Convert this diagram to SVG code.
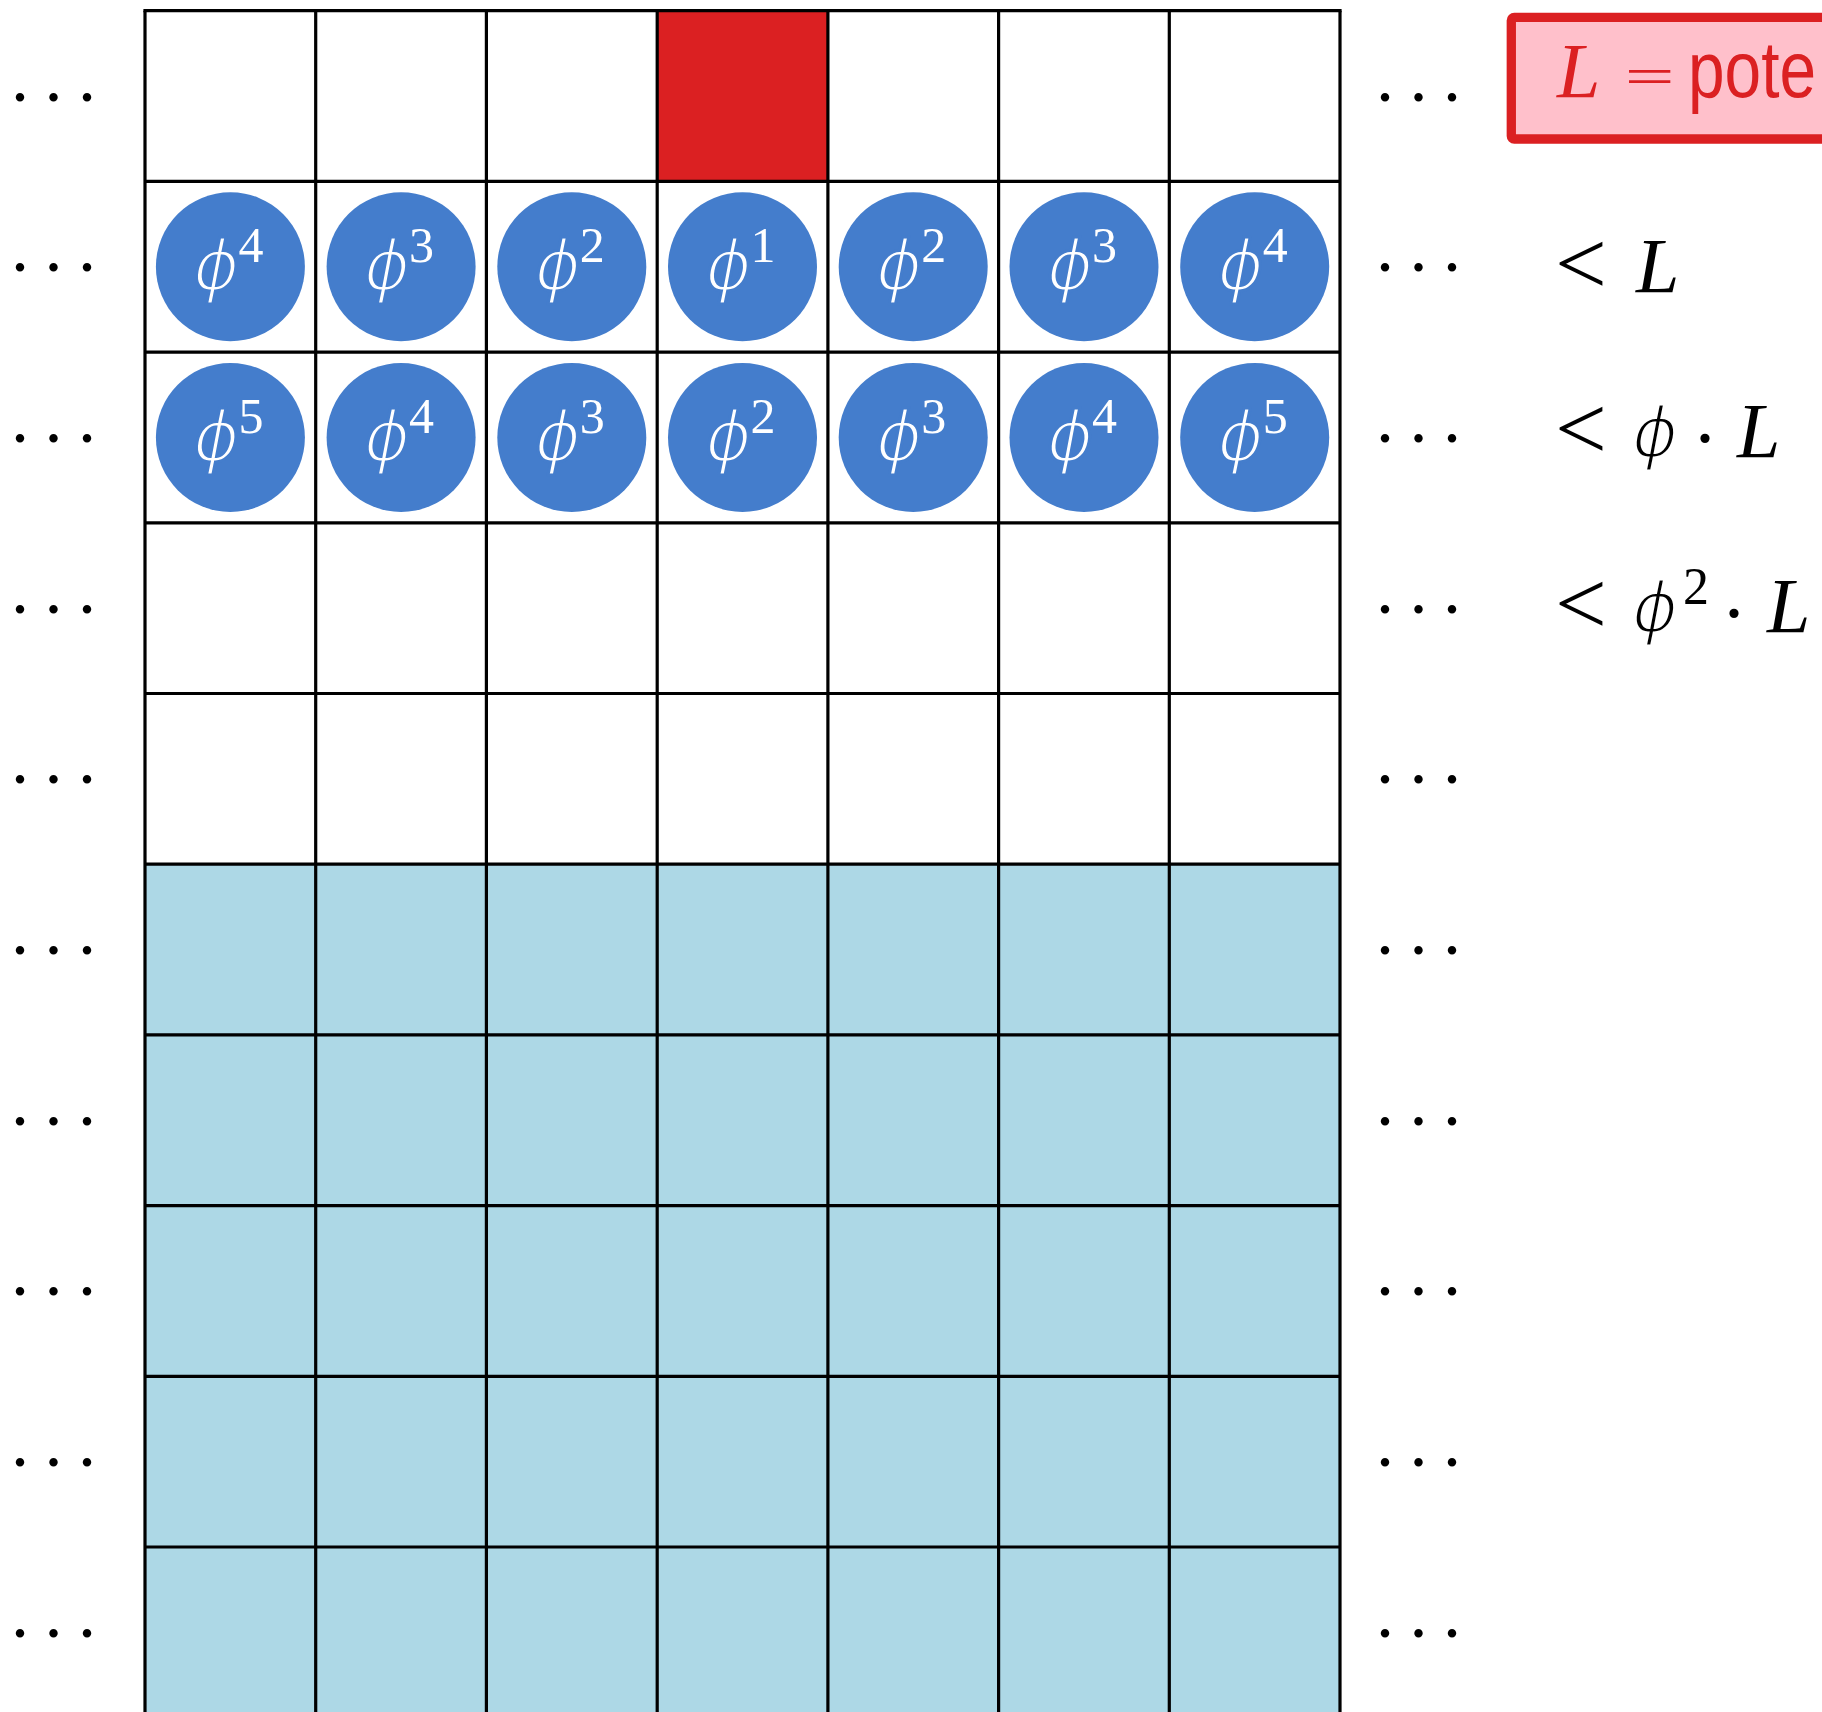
<svg xmlns="http://www.w3.org/2000/svg" width="1822" height="1712" viewBox="0 0 1822 1712">
<style>
.grid line{stroke:#000;stroke-width:3.2;}
.ball{fill:#447DCC;}
.phi{font-family:"DejaVu Sans",sans-serif;font-style:italic;font-size:70px;fill:#fff;stroke:#447DCC;stroke-width:3;text-anchor:middle;}
.sup{font-family:"Liberation Serif",serif;font-size:50px;fill:#fff;}
.dots{font-family:"Liberation Serif",serif;font-size:72px;fill:#000;text-anchor:middle;}
.lt{font-family:"Liberation Serif",serif;font-size:92px;fill:#000;}
.cd{font-family:"Liberation Serif",serif;font-size:78px;fill:#000;text-anchor:middle;}
.mi{font-family:"Liberation Serif",serif;font-style:italic;font-size:78px;fill:#000;}
.mphi{font-family:"DejaVu Sans",sans-serif;font-style:italic;font-size:70px;fill:#000;stroke:#fff;stroke-width:3;}
.msup{font-family:"Liberation Serif",serif;font-size:52px;fill:#000;}
</style>
<rect width="1822" height="1712" fill="#fff"/>
<g id="fills">
<rect x="145" y="864.2" width="1195" height="860" fill="#ADD8E6"/>
<rect id="cell-red" x="657.2" y="10.7" width="170.7" height="170.7" fill="#DB2022"/>
</g>
<g id="grid" class="grid">
<line x1="145" y1="10.7" x2="145" y2="1712"/>
<line x1="315.7" y1="10.7" x2="315.7" y2="1712"/>
<line x1="486.4" y1="10.7" x2="486.4" y2="1712"/>
<line x1="657.2" y1="10.7" x2="657.2" y2="1712"/>
<line x1="827.9" y1="10.7" x2="827.9" y2="1712"/>
<line x1="998.6" y1="10.7" x2="998.6" y2="1712"/>
<line x1="1169.3" y1="10.7" x2="1169.3" y2="1712"/>
<line x1="1340" y1="10.7" x2="1340" y2="1712"/>
<line x1="143.4" y1="10.7" x2="1341.6" y2="10.7"/>
<line x1="145" y1="181.4" x2="1340" y2="181.4"/>
<line x1="145" y1="352.1" x2="1340" y2="352.1"/>
<line x1="145" y1="522.8" x2="1340" y2="522.8"/>
<line x1="145" y1="693.5" x2="1340" y2="693.5"/>
<line x1="145" y1="864.2" x2="1340" y2="864.2"/>
<line x1="145" y1="1034.9" x2="1340" y2="1034.9"/>
<line x1="145" y1="1205.6" x2="1340" y2="1205.6"/>
<line x1="145" y1="1376.3" x2="1340" y2="1376.3"/>
<line x1="145" y1="1547" x2="1340" y2="1547"/>
</g>
<g id="row2">
<g id="b2-1"><circle class="ball" cx="230.4" cy="266.75" r="74.5"/><text class="phi" x="216.4" y="290">ϕ</text><text class="sup" x="238.4" y="262">4</text></g>
<g id="b2-2"><circle class="ball" cx="401.1" cy="266.75" r="74.5"/><text class="phi" x="387.1" y="290">ϕ</text><text class="sup" x="409.1" y="262">3</text></g>
<g id="b2-3"><circle class="ball" cx="571.8" cy="266.75" r="74.5"/><text class="phi" x="557.8" y="290">ϕ</text><text class="sup" x="579.8" y="262">2</text></g>
<g id="b2-4"><circle class="ball" cx="742.5" cy="266.75" r="74.5"/><text class="phi" x="728.5" y="290">ϕ</text><text class="sup" x="750.5" y="262">1</text></g>
<g id="b2-5"><circle class="ball" cx="913.2" cy="266.75" r="74.5"/><text class="phi" x="899.2" y="290">ϕ</text><text class="sup" x="921.2" y="262">2</text></g>
<g id="b2-6"><circle class="ball" cx="1084" cy="266.75" r="74.5"/><text class="phi" x="1070" y="290">ϕ</text><text class="sup" x="1092" y="262">3</text></g>
<g id="b2-7"><circle class="ball" cx="1254.7" cy="266.75" r="74.5"/><text class="phi" x="1240.7" y="290">ϕ</text><text class="sup" x="1262.7" y="262">4</text></g>
</g>
<g id="row3">
<g id="b3-1"><circle class="ball" cx="230.4" cy="437.45" r="74.5"/><text class="phi" x="216.4" y="460.7">ϕ</text><text class="sup" x="238.4" y="432.7">5</text></g>
<g id="b3-2"><circle class="ball" cx="401.1" cy="437.45" r="74.5"/><text class="phi" x="387.1" y="460.7">ϕ</text><text class="sup" x="409.1" y="432.7">4</text></g>
<g id="b3-3"><circle class="ball" cx="571.8" cy="437.45" r="74.5"/><text class="phi" x="557.8" y="460.7">ϕ</text><text class="sup" x="579.8" y="432.7">3</text></g>
<g id="b3-4"><circle class="ball" cx="742.5" cy="437.45" r="74.5"/><text class="phi" x="728.5" y="460.7">ϕ</text><text class="sup" x="750.5" y="432.7">2</text></g>
<g id="b3-5"><circle class="ball" cx="913.2" cy="437.45" r="74.5"/><text class="phi" x="899.2" y="460.7">ϕ</text><text class="sup" x="921.2" y="432.7">3</text></g>
<g id="b3-6"><circle class="ball" cx="1084" cy="437.45" r="74.5"/><text class="phi" x="1070" y="460.7">ϕ</text><text class="sup" x="1092" y="432.7">4</text></g>
<g id="b3-7"><circle class="ball" cx="1254.7" cy="437.45" r="74.5"/><text class="phi" x="1240.7" y="460.7">ϕ</text><text class="sup" x="1262.7" y="432.7">5</text></g>
</g>
<g id="dots-left">
<text class="dots" x="20 53.5 87" y="100.5">...</text>
<text class="dots" x="20 53.5 87" y="271.2">...</text>
<text class="dots" x="20 53.5 87" y="441.9">...</text>
<text class="dots" x="20 53.5 87" y="612.6">...</text>
<text class="dots" x="20 53.5 87" y="783.3">...</text>
<text class="dots" x="20 53.5 87" y="954">...</text>
<text class="dots" x="20 53.5 87" y="1124.7">...</text>
<text class="dots" x="20 53.5 87" y="1295.4">...</text>
<text class="dots" x="20 53.5 87" y="1466.1">...</text>
<text class="dots" x="20 53.5 87" y="1636.8">...</text>
</g>
<g id="dots-right">
<text class="dots" x="1385 1418.5 1452" y="100.5">...</text>
<text class="dots" x="1385 1418.5 1452" y="271.2">...</text>
<text class="dots" x="1385 1418.5 1452" y="441.9">...</text>
<text class="dots" x="1385 1418.5 1452" y="612.6">...</text>
<text class="dots" x="1385 1418.5 1452" y="783.3">...</text>
<text class="dots" x="1385 1418.5 1452" y="954">...</text>
<text class="dots" x="1385 1418.5 1452" y="1124.7">...</text>
<text class="dots" x="1385 1418.5 1452" y="1295.4">...</text>
<text class="dots" x="1385 1418.5 1452" y="1466.1">...</text>
<text class="dots" x="1385 1418.5 1452" y="1636.8">...</text>
</g>
<g id="legend">
<rect x="1511.3" y="17.4" width="340" height="121.6" rx="3" fill="#FFC0CB" stroke="#DB2022" stroke-width="9.3"/>
<text x="1557" y="96.7" font-family="Liberation Serif, serif" font-style="italic" font-size="78" fill="#DB2022">L</text>
<text x="1622" y="96.7" font-family="DejaVu Sans, sans-serif" font-weight="200" font-size="66" fill="#DB2022">=</text>
<text x="1688" y="96.7" font-family="Liberation Sans, sans-serif" font-size="80" fill="#DB2022" textLength="128" lengthAdjust="spacingAndGlyphs">pote</text>
</g>
<g id="bounds">
<g id="bound1"><text class="lt" x="1555" y="294">&lt;</text><text class="mi" x="1636" y="292.3">L</text></g>
<g id="bound2"><text class="lt" x="1555" y="458.7">&lt;</text><text class="mphi" x="1632" y="457">ϕ</text><text class="cd" x="1705" y="464">·</text><text class="mi" x="1737" y="457">L</text></g>
<g id="bound3"><text class="lt" x="1555" y="634">&lt;</text><text class="mphi" x="1632" y="632">ϕ</text><text class="msup" x="1683" y="604">2</text><text class="cd" x="1734" y="639">·</text><text class="mi" x="1767" y="632">L</text></g>
</g>
</svg>
